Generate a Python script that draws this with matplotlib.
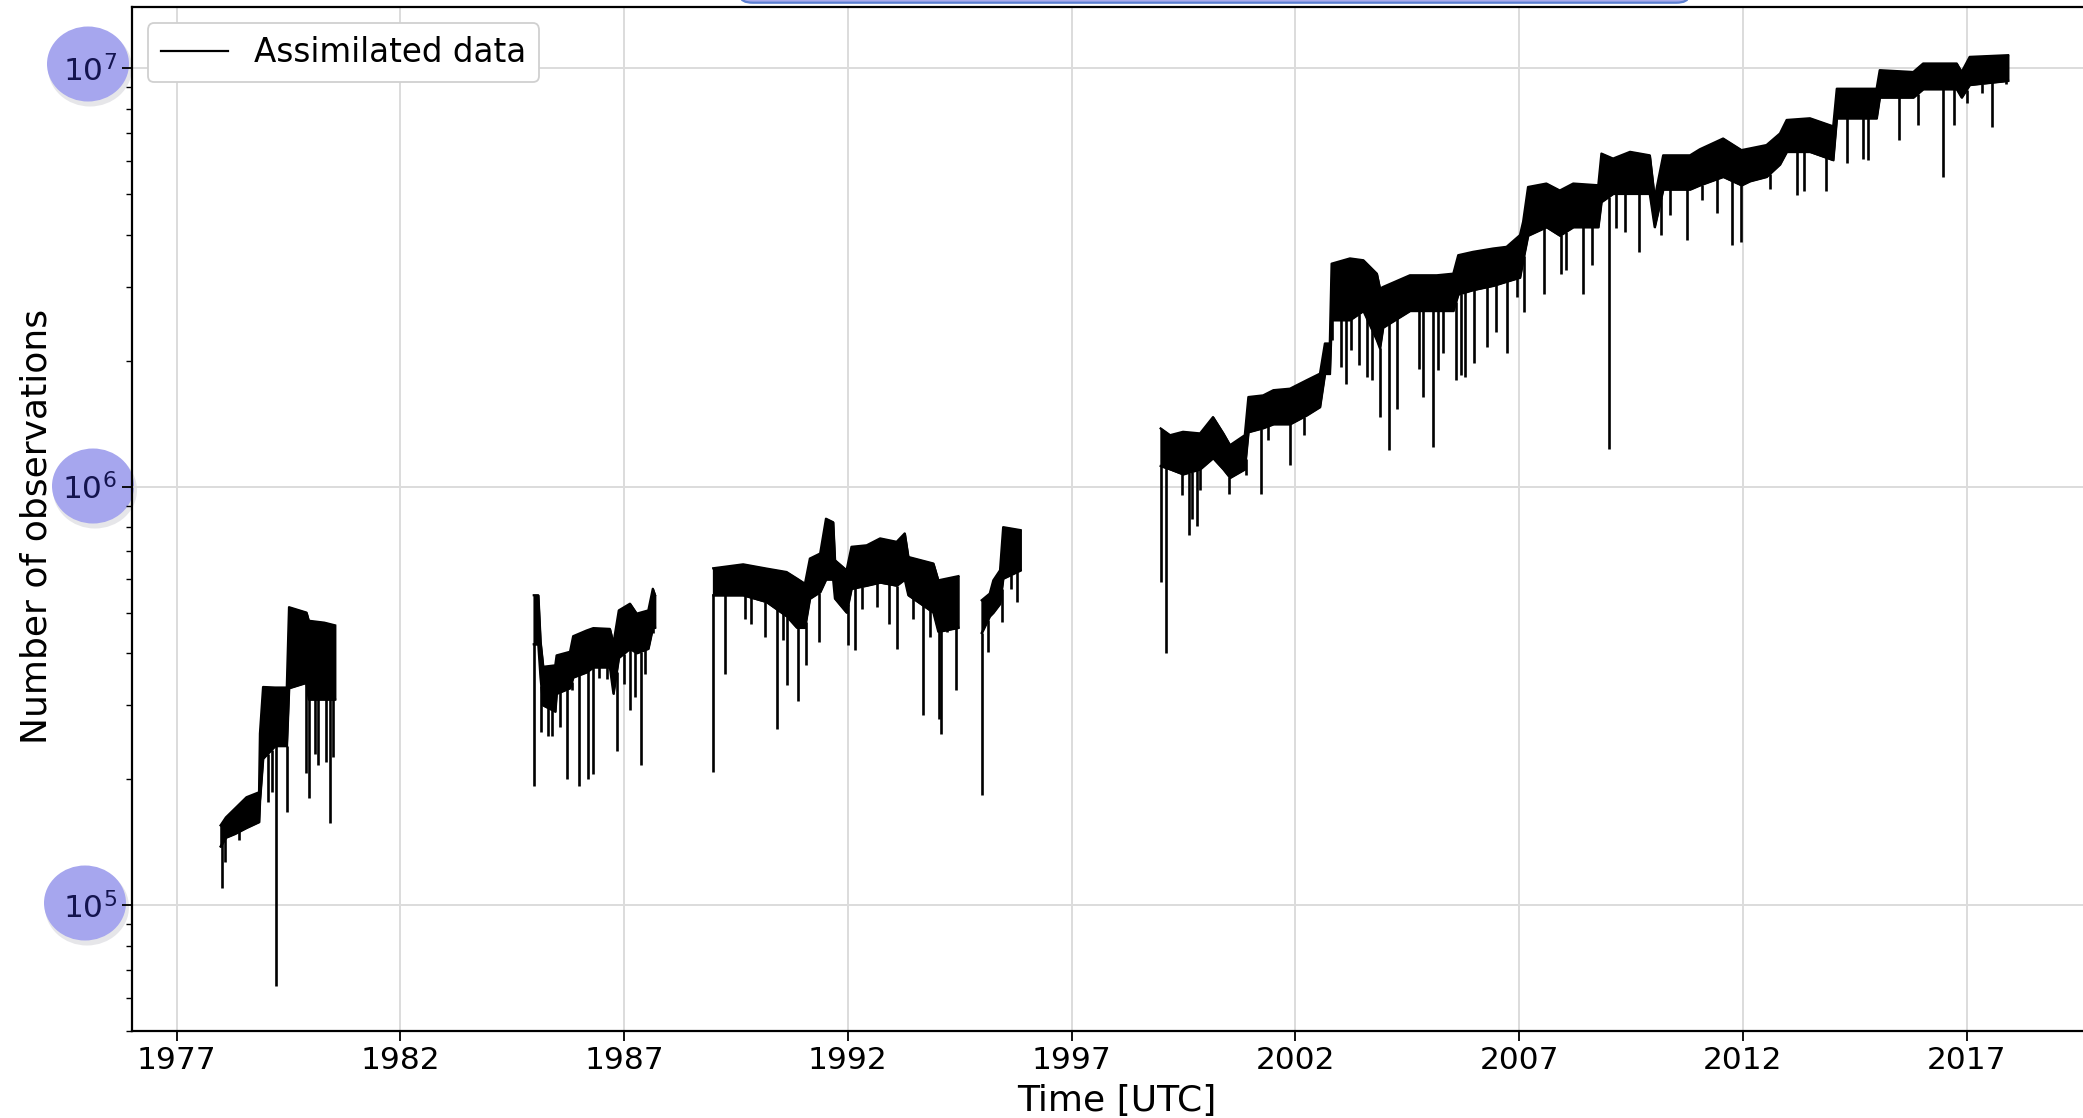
import numpy as np
import matplotlib
matplotlib.use("Agg")
import matplotlib.pyplot as plt
from matplotlib.patches import Ellipse, FancyBboxPatch

# ---------------- data ----------------
# Each segment: time (decimal year), upper and lower edge of the dense band
seg1_t = [1977.98, 1978.10, 1978.30, 1978.56, 1978.84, 1978.86, 1978.93, 1979.20,
          1979.46, 1979.51, 1979.90, 1979.95, 1980.30, 1980.54]
seg1_hi = [1.55e5, 1.62e5, 1.70e5, 1.81e5, 1.86e5, 2.57e5, 3.32e5, 3.31e5,
           3.31e5, 5.15e5, 5.00e5, 4.78e5, 4.73e5, 4.66e5]
seg1_lo = [1.38e5, 1.45e5, 1.48e5, 1.53e5, 1.58e5, 1.78e5, 2.24e5, 2.40e5,
           2.40e5, 3.30e5, 3.40e5, 3.10e5, 3.10e5, 3.10e5]

seg2_t = [1984.98, 1985.08, 1985.13, 1985.19, 1985.46, 1985.49, 1985.79, 1985.86,
          1986.16, 1986.31, 1986.68, 1986.76, 1986.88, 1987.13, 1987.28, 1987.54,
          1987.64, 1987.69]
seg2_hi = [5.50e5, 5.50e5, 4.26e5, 3.71e5, 3.74e5, 3.95e5, 4.03e5, 4.39e5,
           4.53e5, 4.59e5, 4.57e5, 4.22e5, 5.06e5, 5.25e5, 4.97e5, 5.06e5,
           5.70e5, 5.50e5]
seg2_lo = [4.20e5, 4.20e5, 3.50e5, 3.00e5, 2.90e5, 3.20e5, 3.30e5, 3.50e5,
           3.60e5, 3.70e5, 3.70e5, 3.20e5, 3.90e5, 4.10e5, 4.00e5, 4.10e5,
           4.60e5, 4.60e5]

seg3_t = [1988.99, 1989.66, 1990.18, 1990.63, 1990.86, 1991.04, 1991.15, 1991.38,
          1991.51, 1991.67, 1991.71, 1991.97, 1992.08, 1992.42, 1992.72, 1993.09,
          1993.27, 1993.35, 1993.91, 1994.02, 1994.47]
seg3_hi = [6.38e5, 6.52e5, 6.37e5, 6.25e5, 6.03e5, 5.86e5, 6.73e5, 6.92e5,
           8.38e5, 8.22e5, 6.67e5, 6.31e5, 7.18e5, 7.24e5, 7.52e5, 7.38e5,
           7.73e5, 6.79e5, 6.55e5, 5.97e5, 6.11e5]
seg3_lo = [5.50e5, 5.50e5, 5.30e5, 4.90e5, 4.60e5, 4.60e5, 5.40e5, 5.60e5,
           6.00e5, 6.00e5, 5.40e5, 5.00e5, 5.70e5, 5.80e5, 5.90e5, 5.80e5,
           6.00e5, 5.50e5, 5.00e5, 4.50e5, 4.60e5]

seg4_t = [1994.99, 1995.17, 1995.25, 1995.40, 1995.47, 1995.86]
seg4_hi = [5.35e5, 5.55e5, 5.97e5, 6.31e5, 8.00e5, 7.87e5]
seg4_lo = [4.47e5, 4.90e5, 5.00e5, 5.25e5, 6.03e5, 6.31e5]

seg5_t = [1998.99, 1999.20, 1999.49, 1999.87, 2000.16, 2000.39, 2000.54, 2000.87,
          2000.95, 2001.28, 2001.51, 2001.88, 2002.25, 2002.55, 2002.66, 2002.77,
          2002.81, 2003.22, 2003.52, 2003.82, 2003.89, 2003.96, 2004.56, 2005.16,
          2005.53, 2005.64, 2005.97, 2006.42, 2006.72, 2007.02, 2007.09, 2007.20,
          2007.61, 2007.91, 2008.21, 2008.77, 2008.84, 2009.10, 2009.48, 2009.92,
          2010.03, 2010.22, 2010.82, 2011.04, 2011.56, 2011.97, 2012.16, 2012.53,
          2012.83, 2012.98, 2013.50, 2014.02, 2014.10, 2014.99, 2015.06, 2015.81,
          2016.03, 2016.78, 2016.89, 2017.07, 2017.93]
seg5_hi = [1.377e6, 1.327e6, 1.352e6, 1.340e6, 1.466e6, 1.340e6, 1.256e6, 1.327e6,
           1.637e6, 1.652e6, 1.700e6, 1.714e6, 1.795e6, 1.862e6, 2.198e6, 2.198e6,
           3.410e6, 3.510e6, 3.475e6, 3.228e6, 2.972e6, 3.000e6, 3.199e6, 3.199e6,
           3.228e6, 3.573e6, 3.639e6, 3.707e6, 3.741e6, 3.990e6, 4.295e6, 5.200e6,
           5.300e6, 5.100e6, 5.300e6, 5.250e6, 6.250e6, 6.080e6, 6.310e6, 6.190e6,
           4.890e6, 6.190e6, 6.190e6, 6.400e6, 6.790e6, 6.370e6, 6.430e6, 6.550e6,
           6.980e6, 7.520e6, 7.590e6, 7.260e6, 8.930e6, 8.930e6, 9.890e6, 9.790e6,
           1.026e7, 1.026e7, 9.790e6, 1.064e7, 1.074e7]
seg5_lo = [1.12e6, 1.10e6, 1.07e6, 1.10e6, 1.17e6, 1.10e6, 1.05e6, 1.10e6,
           1.35e6, 1.38e6, 1.41e6, 1.41e6, 1.48e6, 1.55e6, 1.86e6, 1.86e6,
           2.50e6, 2.50e6, 2.63e6, 2.24e6, 2.14e6, 2.40e6, 2.63e6, 2.63e6,
           2.63e6, 2.88e6, 2.95e6, 3.02e6, 3.09e6, 3.16e6, 3.47e6, 3.98e6,
           4.17e6, 3.98e6, 4.17e6, 4.17e6, 4.79e6, 5.01e6, 5.01e6, 5.01e6,
           4.17e6, 5.13e6, 5.13e6, 5.25e6, 5.50e6, 5.25e6, 5.37e6, 5.50e6,
           5.89e6, 6.31e6, 6.31e6, 6.03e6, 7.59e6, 7.59e6, 8.51e6, 8.51e6,
           8.91e6, 8.91e6, 8.51e6, 9.12e6, 9.33e6]

# Downward spikes (time, minimum value)
spike_t = [1978.02, 1978.09, 1978.40, 1979.03, 1979.12, 1979.22, 1979.46, 1979.74,
           1979.90, 1979.95, 1980.09, 1980.16, 1980.34, 1980.43, 1980.50,
           1984.98, 1985.15, 1985.30, 1985.38, 1985.57, 1985.73, 1985.83, 1986.00,
           1986.20, 1986.31, 1986.44, 1986.62, 1986.74, 1986.83, 1986.99, 1987.13,
           1987.24, 1987.37, 1987.46, 1987.65,
           1988.99, 1989.25, 1989.70, 1989.83, 1990.15, 1990.42, 1990.54, 1990.64,
           1990.89, 1991.06, 1991.36, 1992.01, 1992.16, 1992.31, 1992.66, 1992.92,
           1993.09, 1993.45, 1993.68, 1993.83, 1994.03, 1994.09, 1994.22, 1994.41,
           1994.99, 1995.13, 1995.44, 1995.64, 1995.78,
           1998.99, 1999.11, 1999.46, 1999.62, 1999.70, 1999.81, 1999.87, 2000.52,
           2000.89, 2001.24, 2001.40, 2001.88, 2002.19, 2002.81, 2003.03, 2003.14,
           2003.25, 2003.42, 2003.60, 2003.72, 2003.89, 2004.10, 2004.28, 2004.77,
           2004.86, 2005.08, 2005.19, 2005.30, 2005.59, 2005.70, 2005.79, 2005.99,
           2006.28, 2006.48, 2006.73, 2006.96, 2007.11, 2007.56, 2007.93, 2008.05,
           2008.43, 2008.64, 2009.01, 2009.16, 2009.36, 2009.68, 2010.18, 2010.37,
           2010.76, 2011.08, 2011.43, 2011.75, 2011.95, 2012.60, 2013.21, 2013.36,
           2013.85, 2014.33, 2014.69, 2014.80, 2015.49, 2015.91, 2016.48, 2016.73,
           2017.00, 2017.35, 2017.57, 2017.88]
spike_v = [1.10e5, 1.27e5, 1.43e5, 1.76e5, 1.86e5, 6.4e4, 1.67e5, 3.85e5,
           2.07e5, 1.80e5, 2.30e5, 2.16e5, 2.20e5, 1.57e5, 2.26e5,
           1.93e5, 2.59e5, 2.54e5, 2.54e5, 2.66e5, 2.00e5, 3.26e5, 1.93e5,
           2.00e5, 2.06e5, 3.48e5, 3.47e5, 3.29e5, 2.34e5, 3.38e5, 2.92e5,
           3.14e5, 2.16e5, 3.57e5, 4.46e5,
           2.08e5, 3.57e5, 4.83e5, 4.70e5, 4.37e5, 2.64e5, 4.29e5, 3.35e5,
           3.08e5, 3.74e5, 4.25e5, 4.18e5, 4.06e5, 5.11e5, 5.15e5, 4.70e5,
           4.10e5, 4.83e5, 2.84e5, 4.37e5, 2.79e5, 2.57e5, 4.50e5, 3.26e5,
           1.83e5, 4.03e5, 4.74e5, 5.70e5, 5.30e5,
           5.90e5, 4.00e5, 9.53e5, 7.65e5, 8.38e5, 8.07e5, 9.79e5, 9.62e5,
           1.064e6, 9.62e5, 1.29e6, 1.125e6, 1.327e6, 2.24e6, 1.93e6, 1.76e6,
           2.12e6, 1.95e6, 1.83e6, 1.795e6, 1.466e6, 1.22e6, 1.535e6, 1.91e6,
           1.64e6, 1.245e6, 1.90e6, 2.08e6, 1.795e6, 1.845e6, 1.83e6, 1.97e6,
           2.16e6, 2.34e6, 2.08e6, 2.84e6, 2.61e6, 2.89e6, 3.23e6, 3.29e6,
           2.89e6, 3.38e6, 1.23e6, 4.14e6, 4.06e6, 3.64e6, 3.99e6, 4.46e6,
           3.88e6, 4.83e6, 4.50e6, 3.78e6, 3.85e6, 5.15e6, 4.97e6, 5.10e6,
           5.10e6, 5.92e6, 6.08e6, 6.03e6, 6.73e6, 7.31e6, 5.50e6, 7.31e6,
           8.24e6, 8.71e6, 7.24e6, 9.18e6]

x_ticks = [1977, 1982, 1987, 1992, 1997, 2002, 2007, 2012, 2017]
x_ticklabels = ["1977", "1982", "1987", "1992", "1997", "2002", "2007", "2012", "2017"]
legend_label = "Assimilated data"
x_label = "Time [UTC]"
y_label = "Number of observations"

segments = [(seg1_t, seg1_hi, seg1_lo), (seg2_t, seg2_hi, seg2_lo),
            (seg3_t, seg3_hi, seg3_lo), (seg4_t, seg4_hi, seg4_lo),
            (seg5_t, seg5_hi, seg5_lo)]

# ---------------- figure ----------------
W, H = 2083, 1118
fig = plt.figure(figsize=(W / 100, H / 100), dpi=100)
ax_left, ax_right, ax_top, ax_bottom = 131.5, 2103.0, 7.0, 1031.0
ax = fig.add_axes([ax_left / W, (H - ax_bottom) / H,
                   (ax_right - ax_left) / W, (ax_bottom - ax_top) / H])
ax.set_zorder(2)
ax.patch.set_alpha(0.0)

for i, (t, hi, lo) in enumerate(segments):
    ax.fill_between(t, lo, hi, color="black", lw=1.2, zorder=3)
    ax.plot(t, hi, color="black", lw=1.6, zorder=3,
            label=legend_label if i == 0 else None)
    ax.plot(t, lo, color="black", lw=1.6, zorder=3)

all_t = np.concatenate([np.asarray(s[0]) for s in segments])
all_lo = np.concatenate([np.asarray(s[2]) for s in segments])
anchor = np.interp(spike_t, all_t, all_lo)
ax.vlines(spike_t, spike_v, anchor, color="black", lw=1.9, zorder=3)

ax.set_yscale("log")
ax.set_xlim(1975.99, 2020.05)
ax.set_ylim(5.0e4, 1.40e7)
ax.set_xticks(x_ticks)
ax.set_xticklabels(x_ticklabels)
ax.tick_params(axis="both", which="major", labelsize=22.5, length=7, width=1.3)
ax.tick_params(axis="y", which="minor", length=4, width=1.0)
ax.tick_params(axis="y", which="major", labelcolor="#14144f")
ax.grid(True, which="major", color="#dcdcdc", lw=1.4)
ax.set_axisbelow(True)
for sp in ax.spines.values():
    sp.set_linewidth(1.6)

ax.set_xlabel(x_label, fontsize=26, labelpad=6.5)
ax.set_ylabel(y_label, fontsize=26)
ax.yaxis.set_label_coords(-0.0395, 0.493)

leg = ax.legend(loc="upper left", fontsize=23.5, handlelength=2.05,
                fancybox=True, framealpha=1.0, borderaxespad=0.5)
leg.get_frame().set_edgecolor("#d0d0d0")
leg.get_frame().set_linewidth(1.3)
for line in leg.get_lines():
    line.set_linewidth(1.6)

# title box (mostly outside the canvas at the top)
title_box = FancyBboxPatch(((745 + 8) / W, (H - 4 + 8) / H), (1684 - 745 - 16) / W, 60 / H,
                           boxstyle="round,pad=0.006", transform=fig.transFigure,
                           facecolor="#a9abec", edgecolor="#5b7fd0", lw=1.6,
                           zorder=5)
fig.add_artist(title_box)

# highlight circles behind the y tick labels
circles = [(88, 64), (93, 486), (85, 903)]
for cx, cy in circles:
    shadow = Ellipse(((cx + 2) / W, (H - cy - 4) / H), 84 / W, 77 / H,
                     transform=fig.transFigure, facecolor="#c8c8d0", alpha=0.45,
                     edgecolor="none", zorder=0.5)
    fig.add_artist(shadow)
    e = Ellipse((cx / W, (H - cy) / H), 82 / W, 75 / H, transform=fig.transFigure,
                facecolor="#a6a6ee", edgecolor="none", zorder=1)
    fig.add_artist(e)

fig.savefig("out.png", dpi=100)
